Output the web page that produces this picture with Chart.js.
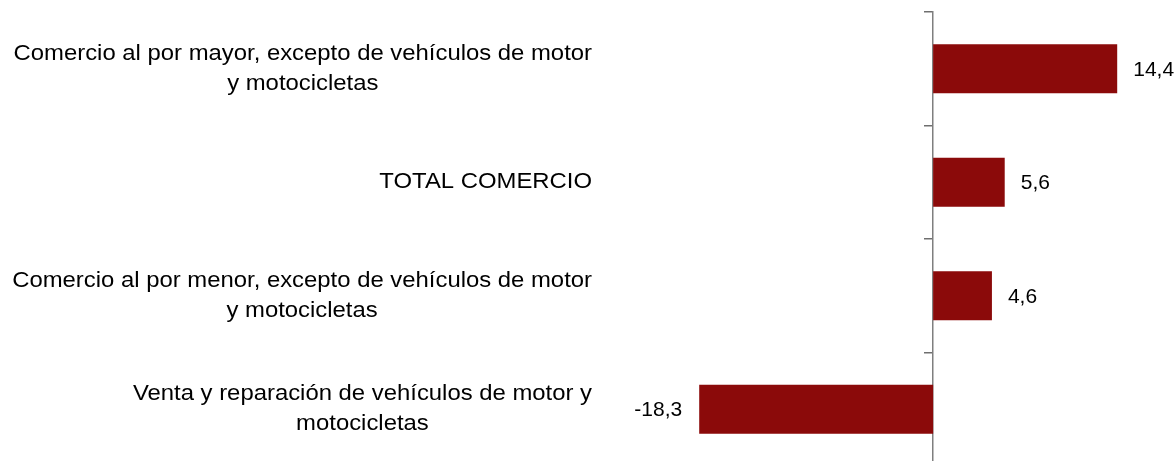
<!DOCTYPE html>
<html>
<head>
<meta charset="utf-8">
<script src="https://cdn.jsdelivr.net/npm/chart.js@4.4.1/dist/chart.umd.min.js"></script>
<style>
  html, body { margin: 0; padding: 0; background: #fff; overflow: hidden; }
  #wrap { position: relative; width: 1176px; height: 470px; }
</style>
</head>
<body>
<div id="wrap"><canvas id="chart"></canvas></div>
<script>
const categories = [
  ['Comercio al por mayor, excepto de vehículos de motor', 'y motocicletas'],
  ['TOTAL COMERCIO'],
  ['Comercio al por menor, excepto de vehículos de motor', 'y motocicletas'],
  ['Venta y reparación de vehículos de motor y', 'motocicletas']
];
const values = [14.4, 5.6, 4.6, -18.3];

const labelFont = '22px "Liberation Sans", Arial, sans-serif';
const valueFont = '21px "Liberation Sans", Arial, sans-serif';

// category labels: block right-aligned, each line centred inside the block
const sideLabels = {
  id: 'sideLabels',
  afterDraw(chart) {
    const ctx = chart.ctx;
    const y = chart.scales.y;
    const rightEdge = 592;
    const lineH = 30;
    const sx = 1.085; // source text is a bit wider than the font
    ctx.save();
    ctx.font = labelFont;
    ctx.fillStyle = '#000';
    ctx.textAlign = 'center';
    ctx.textBaseline = 'middle';
    categories.forEach((lines, i) => {
      const w = Math.max(...lines.map(l => ctx.measureText(l).width)) * sx;
      const cx = rightEdge - w / 2;
      const cy = y.getPixelForValue(i);
      const top = cy - (lines.length - 1) * lineH / 2;
      lines.forEach((l, j) => {
        ctx.save();
        ctx.translate(cx, top + j * lineH);
        ctx.scale(sx, 1);
        ctx.fillText(l, 0, 0);
        ctx.restore();
      });
    });
    ctx.restore();
  }
};

// value labels next to the bars, decimal comma
const valueLabels = {
  id: 'valueLabels',
  afterDatasetsDraw(chart) {
    const ctx = chart.ctx;
    const meta = chart.getDatasetMeta(0);
    ctx.save();
    ctx.font = valueFont;
    ctx.fillStyle = '#000';
    ctx.textBaseline = 'middle';
    meta.data.forEach((bar, i) => {
      const v = values[i];
      const txt = v.toFixed(1).replace('.', ',');
      if (v >= 0) {
        ctx.textAlign = 'left';
        ctx.fillText(txt, bar.x + 16, bar.y + 1);
      } else {
        ctx.textAlign = 'right';
        ctx.fillText(txt, bar.x - 17, bar.y + 1);
      }
    });
    ctx.restore();
  }
};

new Chart(document.getElementById('chart'), {
  type: 'bar',
  data: {
    labels: categories,
    datasets: [{
      data: values,
      backgroundColor: '#8B0A0A',
      borderWidth: 0,
      barPercentage: 0.86,
      categoryPercentage: 0.5
    }]
  },
  options: {
    indexAxis: 'y',
    responsive: true,
    maintainAspectRatio: false,
    animation: false,
    layout: { padding: { top: 12, bottom: 4, left: 0, right: 0 } },
    scales: {
      x: {
        display: false,
        min: -73,
        max: 19
      },
      y: {
        position: { x: 0 },
        grid: {
          offset: true,
          drawOnChartArea: false,
          drawTicks: true,
          tickLength: 8,
          lineWidth: 1.5,
          color: '#6f6f6f'
        },
        border: { color: '#7f7f7f', width: 1.5 },
        ticks: { display: false }
      }
    },
    plugins: {
      legend: { display: false },
      tooltip: { enabled: false }
    }
  },
  plugins: [sideLabels, valueLabels]
});
</script>
</body>
</html>
